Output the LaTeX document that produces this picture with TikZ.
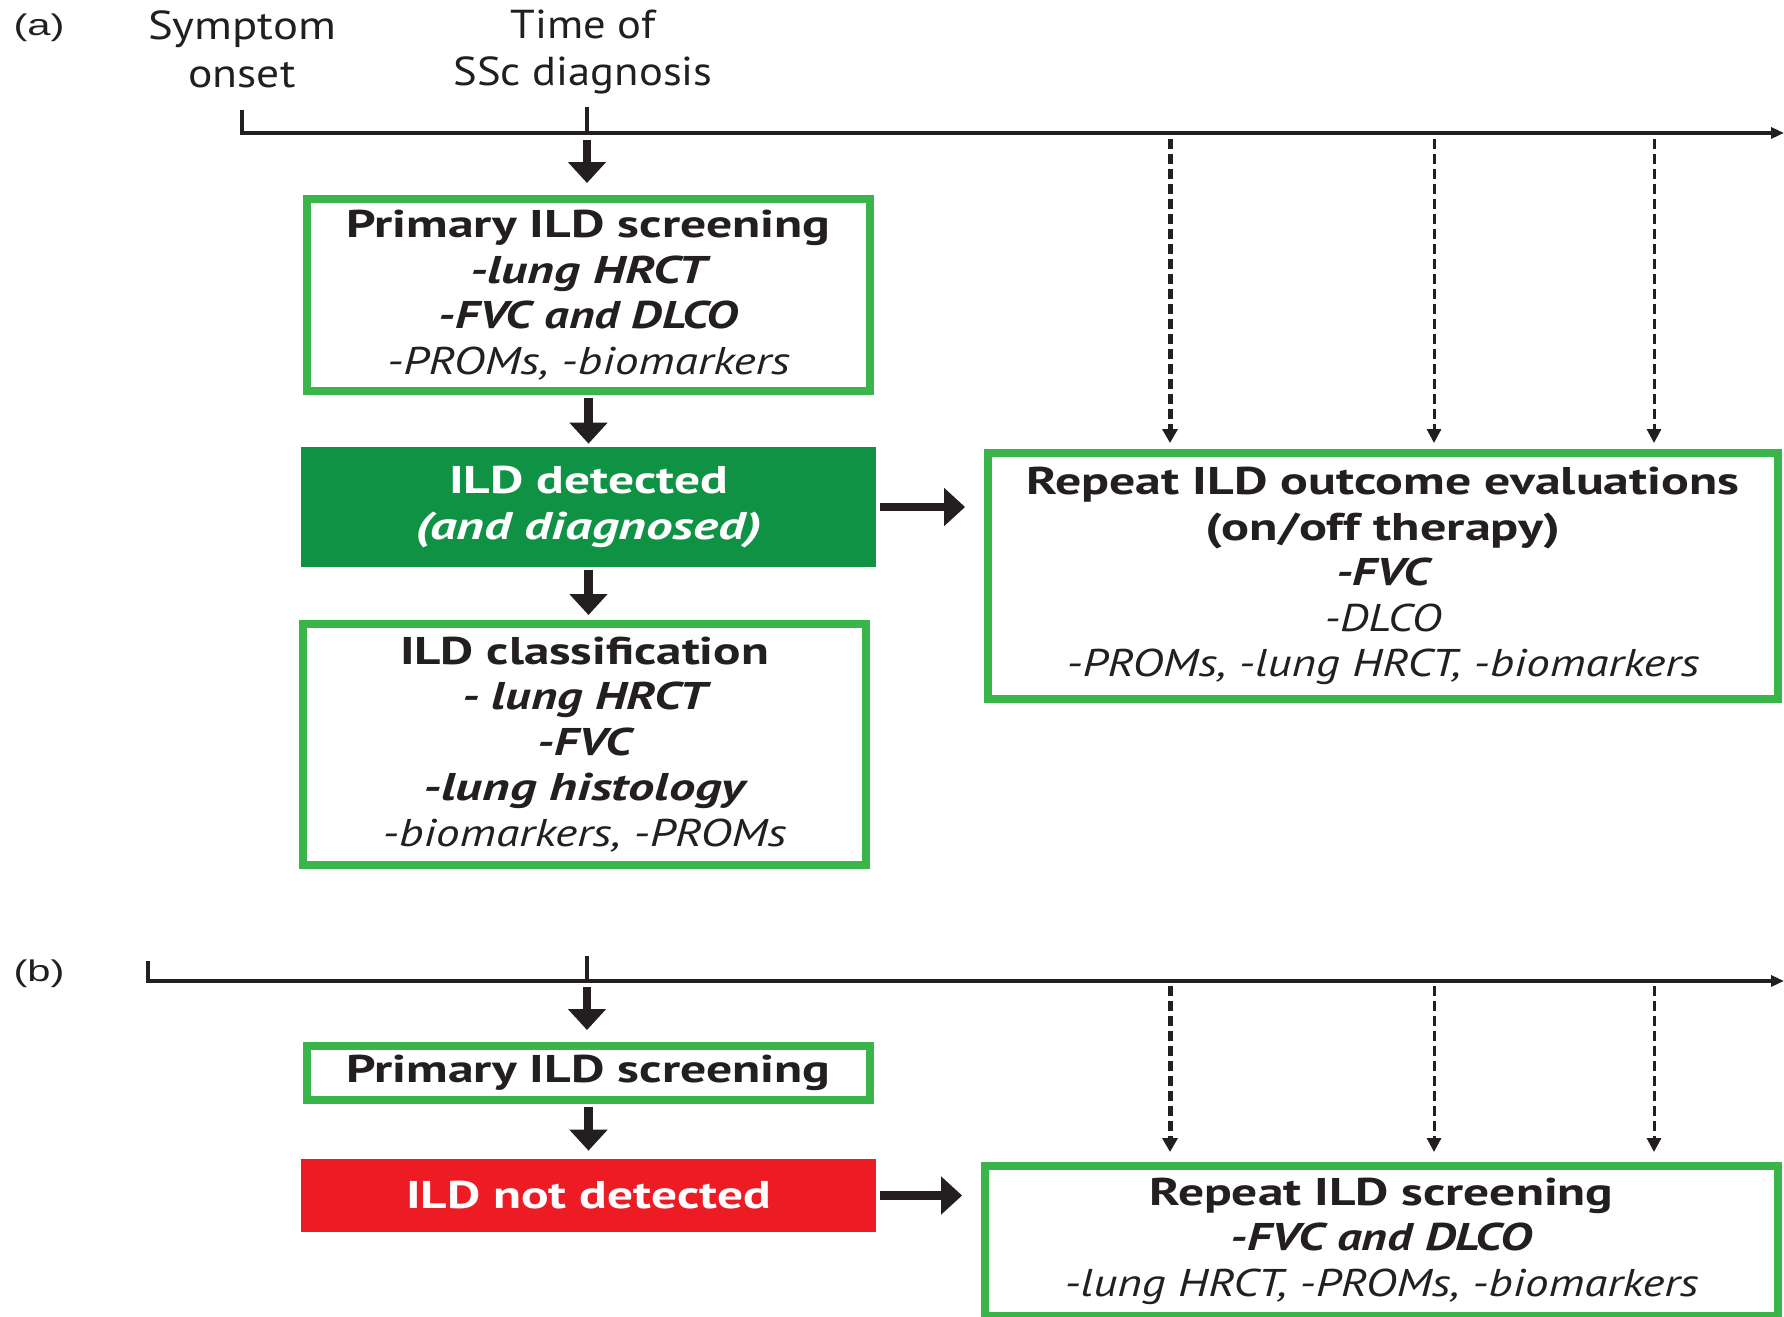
\documentclass[tikz,border=0pt]{standalone}
\usepackage{fontspec}
\setmainfont{PT Sans}
\newfontfamily\labfont{Liberation Sans}
\usetikzlibrary{arrows.meta}
\definecolor{gline}{RGB}{58,181,74}
\definecolor{gfill}{RGB}{16,146,69}
\definecolor{rfill}{RGB}{237,28,36}
\definecolor{ink}{RGB}{35,31,32}
\newcommand\fitw[2]{\resizebox{#1cm}{\height}{#2}}
\begin{document}
\begin{tikzpicture}[x=0.02cm,y=-0.02cm,
  txt/.style={font=\fontsize{22}{25.9}\selectfont},
  gbox/.style={txt,draw=gline,line width=0.16cm,fill=white,inner sep=0pt,align=center,text=ink},
  fbox/.style={txt,inner sep=0pt,align=center,text=white},
  toptext/.style={font=\fontsize{23}{27.3}\selectfont,text=ink,align=center,inner sep=0pt},
  panellabel/.style={font=\labfont\fontsize{17}{20}\selectfont,text=ink,inner sep=0pt},
  timeline/.style={draw=ink,line width=0.08cm},
  bigarrow/.style={draw=ink,line width=0.17cm,-{Triangle[width=0.74cm,length=0.42cm]}},
  dashA/.style={draw=ink,line width=0.1cm,dash pattern=on 0.2cm off 0.1cm,-{Triangle[width=0.3cm,length=0.28cm]}},
  dashB/.style={draw=ink,line width=0.06cm,dash pattern=on 0.2cm off 0.1cm,-{Triangle[width=0.28cm,length=0.28cm]}}
]
\useasboundingbox (0,0) rectangle (1784,1317);

% ---------- panel (a) ----------
\node[panellabel] (la) at (39,28) {\fitw{1.02}{(a)}};
\node[toptext] (sym) at (242,49) {\fitw{3.76}{Symptom}\\\fitw{2.14}{onset}};
\node[toptext] (ssc) at (583,52) {\fitw{2.90}{Time of}\\\fitw{5.18}{SSc diagnosis}};

\coordinate (a0t) at (242,110);
\coordinate (a0) at (242,133);
\coordinate (adt) at (587,107);
\coordinate (ad) at (587,133);
\coordinate (aend) at (1784,133);
\draw[timeline,-{Triangle[width=0.22cm,length=0.26cm]}] (a0t) -- (a0) -- (aend);
\draw[timeline] (adt) -- (ad);

\node[gbox,minimum width=11.26cm,minimum height=3.84cm] (prim) at (588.5,295) {%
  \fitw{9.68}{\bfseries Primary ILD screening}\\
  \fitw{4.74}{\bfseries\itshape -lung HRCT}\\
  \fitw{6.00}{\bfseries\itshape -FVC and DLCO}\\
  \fitw{8.06}{\itshape -PROMs, -biomarkers}};

\node[fbox,fill=gfill,minimum width=11.5cm,minimum height=2.4cm] (det) at (588.5,507) {%
  \fitw{5.58}{\bfseries ILD detected}\\
  \fitw{6.94}{\bfseries\itshape (and diagnosed)}};

\node[gbox,minimum width=11.26cm,minimum height=4.82cm] (cls) at (584.5,744.5) {%
  \fitw{7.38}{\bfseries ILD classification}\\
  \fitw{4.90}{\bfseries\itshape - lung HRCT}\\
  \fitw{1.88}{\bfseries\itshape -FVC}\\
  \fitw{6.44}{\bfseries\itshape -lung histology}\\
  \fitw{8.08}{\itshape -biomarkers, -PROMs}};

\node[gbox,minimum width=15.8cm,minimum height=4.92cm] (rep) at (1383,576) {%
  \fitw{14.26}{\bfseries Repeat ILD outcome evaluations}\\
  \fitw{7.10}{\bfseries (on/off therapy)}\\
  \fitw{1.88}{\bfseries\itshape -FVC}\\
  \fitw{2.34}{\itshape -DLCO}\\
  \fitw{12.66}{\itshape -PROMs, -lung HRCT, -biomarkers}};

\draw[bigarrow,shorten <=0.14cm,shorten >=0.24cm] (ad) -- (ad |- prim.north);
\draw[bigarrow,shorten <=0.06cm,shorten >=0.06cm] (prim) -- (det);
\draw[bigarrow,shorten <=0.05cm,shorten >=0.1cm] (det) -- (det |- cls.north);
\draw[bigarrow,shorten <=0.08cm,shorten >=0.38cm] (det.east) -- (det.east -| rep.west);

\coordinate (ta1) at (1170,133);
\coordinate (ta2) at (1434,133);
\coordinate (ta3) at (1654,133);
\draw[dashA,shorten <=0.12cm,shorten >=0.12cm] (ta1) -- (ta1 |- rep.north);
\draw[dashB,shorten <=0.12cm,shorten >=0.12cm] (ta2) -- (ta2 |- rep.north);
\draw[dashB,shorten <=0.12cm,shorten >=0.12cm] (ta3) -- (ta3 |- rep.north);

% ---------- panel (b) ----------
\node[panellabel] (lb) at (39,974) {\fitw{1.02}{(b)}};
\coordinate (b0t) at (148,961);
\coordinate (b0) at (148,981);
\coordinate (bdt) at (587,956);
\coordinate (bd) at (587,981);
\coordinate (bend) at (1784,981);
\draw[timeline,-{Triangle[width=0.22cm,length=0.26cm]}] (b0t) -- (b0) -- (bend);
\draw[timeline] (bdt) -- (bd);

\node[gbox,minimum width=11.26cm,minimum height=1.08cm] (primb) at (588.5,1073) {%
  \fitw{9.68}{\bfseries Primary ILD screening}};

\node[fbox,fill=rfill,minimum width=11.5cm,minimum height=1.46cm] (nodet) at (588.5,1195.5) {%
  \fitw{7.30}{\bfseries ILD not detected}};

\node[gbox,minimum width=15.86cm,minimum height=3.0cm] (repb) at (1381.5,1241) {%
  \fitw{9.28}{\bfseries Repeat ILD screening}\\
  \fitw{6.04}{\bfseries\itshape -FVC and DLCO}\\
  \fitw{12.68}{\itshape -lung HRCT, -PROMs, -biomarkers}};

\draw[bigarrow,shorten <=0.12cm,shorten >=0.24cm] (bd) -- (bd |- primb.north);
\draw[bigarrow,shorten <=0.06cm,shorten >=0.16cm] (primb) -- (nodet);
\draw[bigarrow,shorten <=0.08cm,shorten >=0.38cm] (nodet.east) -- (nodet.east -| repb.west);

\coordinate (tb1) at (1170,981);
\coordinate (tb2) at (1434,981);
\coordinate (tb3) at (1654,981);
\draw[dashA,shorten <=0.1cm,shorten >=0.2cm] (tb1) -- (tb1 |- repb.north);
\draw[dashB,shorten <=0.1cm,shorten >=0.2cm] (tb2) -- (tb2 |- repb.north);
\draw[dashB,shorten <=0.1cm,shorten >=0.2cm] (tb3) -- (tb3 |- repb.north);
\end{tikzpicture}
\end{document}
